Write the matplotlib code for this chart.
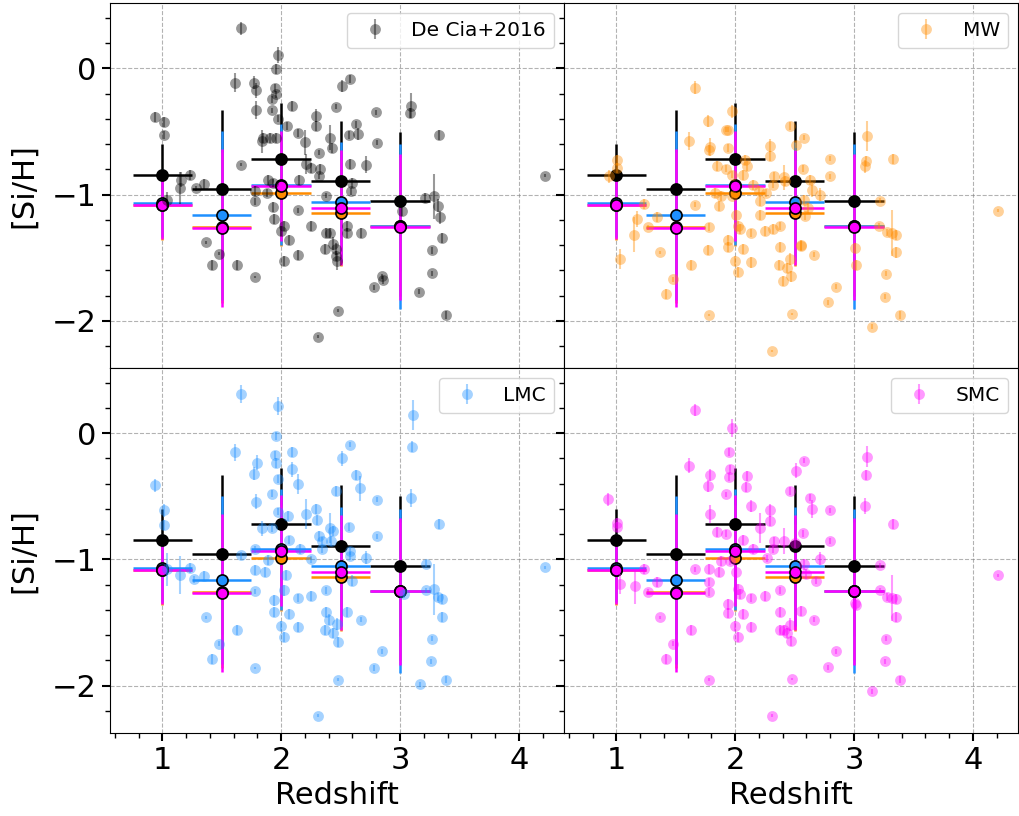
import matplotlib
matplotlib.use('Agg')
import matplotlib.pyplot as plt
from matplotlib.ticker import AutoMinorLocator, MultipleLocator

# --- individual absorbers, one set of lists per dust model ---
decia_z = [1.66, 1.97, 1.96, 1.61, 1.77, 1.79, 1.95, 1.96, 1.92, 2.51, 2.58, 2.09, 1.79, 1.92, 1.97,
           2.46, 2.29, 2.29, 2.05, 2.14, 2.20, 1.85, 1.91, 1.96, 1.84, 2.41, 2.57, 2.65, 2.63, 2.80,
           2.81, 3.09, 3.08, 3.33, 0.94, 1.01, 1.01, 2.32, 2.43, 2.21, 2.25, 2.33, 2.58, 2.71, 2.32,
           1.66, 1.23, 1.16, 1.15, 1.35, 1.28, 1.89, 2.15, 1.78, 1.78, 1.88, 1.93, 2.60, 2.59, 2.38,
           1.04, 3.21, 3.29, 3.32, 3.02, 3.34, 3.35, 3.27, 3.27, 3.16, 3.39, 2.85, 2.86, 2.78, 1.93,
           1.94, 2.14, 2.02, 2.00, 2.07, 2.25, 2.38, 2.41, 2.55, 2.55, 2.67, 2.37, 2.44, 2.46, 2.46,
           2.47, 1.37, 1.48, 1.42, 1.63, 1.78, 2.02, 2.14, 2.48, 2.31, 4.22]
decia_y = [0.317, 0.106, -0.008, -0.114, -0.114, -0.172, -0.153, -0.206, -0.246, -0.140, -0.082,
           -0.299, -0.331, -0.331, -0.397, -0.304, -0.373, -0.458, -0.458, -0.511, -0.585, -0.550,
           -0.550, -0.550, -0.577, -0.550, -0.529, -0.519, -0.444, -0.347, -0.590, -0.294, -0.352,
           -0.524, -0.384, -0.426, -0.529, -0.669, -0.630, -0.757, -0.788, -0.794, -0.754, -0.762,
           -0.854, -0.762, -0.841, -0.881, -0.947, -0.913, -0.950, -0.881, -0.881, -0.974, -1.053,
           -0.987, -0.907, -0.907, -0.974, -1.008, -1.040, -1.026, -1.013, -1.087, -1.132, -1.180,
           -1.344, -1.442, -1.622, -1.770, -1.952, -1.648, -1.675, -1.733, -1.098, -1.193, -1.124,
           -1.246, -1.291, -1.357, -1.246, -1.304, -1.304, -1.246, -1.304, -1.304, -1.431, -1.389,
           -1.431, -1.489, -1.529, -1.378, -1.468, -1.556, -1.556, -1.653, -1.524, -1.481, -1.918,
           -2.124, -0.849]
decia_err = [0.05, 0.06, 0.04, 0.075, 0.05, 0.06, 0.03, 0.03, 0.03, 0.05, 0.03, 0.04, 0.07, 0.02, 0.03,
             0.02, 0.05, 0.04, 0.03, 0.03, 0.10, 0.04, 0.04, 0.04, 0.09, 0.10, 0.03, 0.05, 0.03, 0.02,
             0.02, 0.10, 0.04, 0.04, 0.04, 0.04, 0.03, 0.02, 0.04, 0.08, 0.04, 0.04, 0.04, 0.07, 0.02,
             0.01, 0.04, 0.06, 0.13, 0.04, 0.02, 0.04, 0.04, 0.04, 0.03, 0.03, 0.03, 0.04, 0.03, 0.02,
             0.06, 0.04, 0.18, 0.05, 0.04, 0.05, 0.04, 0.03, 0.02, 0.02, 0.03, 0.02, 0.03, 0.02, 0.04,
             0.04, 0.02, 0.04, 0.04, 0.04, 0.04, 0.04, 0.04, 0.04, 0.04, 0.04, 0.04, 0.05, 0.05, 0.04,
             0.07, 0.01, 0.01, 0.04, 0.04, 0.01, 0.04, 0.04, 0.01, 0.01, 0.01]

mw_z = [1.66, 1.97, 1.77, 1.92, 1.94, 2.46, 2.58, 1.61, 1.79, 1.78, 1.94, 2.29, 2.29, 2.51, 2.80,
        2.80, 3.11, 3.10, 3.09, 3.33, 1.01, 1.01, 0.94, 1.85, 1.92, 1.97, 2.07, 2.08, 2.10, 2.57,
        2.33, 2.41, 2.32, 2.42, 2.63, 2.65, 2.71, 1.83, 1.88, 1.97, 2.15, 2.20, 2.21, 2.26, 1.86,
        1.66, 1.23, 1.17, 1.15, 1.03, 1.34, 1.27, 1.78, 2.01, 2.02, 2.04, 2.13, 2.21, 2.25, 2.32,
        2.38, 2.58, 2.61, 2.59, 3.22, 3.21, 3.28, 3.32, 3.35, 3.35, 3.01, 3.02, 3.27, 3.26, 3.39,
        3.15, 2.85, 2.78, 2.48, 2.66, 2.55, 2.55, 2.38, 2.37, 2.46, 2.44, 2.47, 2.40, 1.94, 1.94,
        2.07, 2.00, 2.13, 2.02, 1.77, 1.37, 1.63, 1.48, 1.42, 1.78, 2.31, 4.21]
mw_y = [-0.153, -0.339, -0.418, -0.484, -0.484, -0.458, -0.550, -0.577, -0.624, -0.643, -0.630,
        -0.611, -0.696, -0.603, -0.717, -0.854, -0.537, -0.735, -0.775, -0.717, -0.728, -0.788,
        -0.854, -0.775, -0.794, -0.841, -0.841, -0.722, -0.775, -0.794, -0.854, -0.862, -0.921,
        -0.894, -0.881, -0.960, -1.000, -0.987, -1.013, -1.008, -0.921, -0.974, -1.053, -0.987,
        -1.093, -1.079, -1.071, -1.193, -1.317, -1.511, -1.180, -1.257, -1.257, -1.159, -1.246,
        -1.272, -1.304, -1.164, -1.291, -1.272, -1.246, -1.040, -1.106, -1.172, -1.048, -1.246,
        -1.299, -1.304, -1.317, -1.458, -1.423, -1.556, -1.627, -1.807, -1.952, -2.045, -1.728,
        -1.854, -1.947, -1.476, -1.410, -1.397, -1.418, -1.556, -1.511, -1.582, -1.648, -1.683,
        -1.357, -1.418, -1.431, -1.524, -1.537, -1.616, -1.437, -1.458, -1.556, -1.669, -1.788,
        -1.952, -2.238, -1.127]
mw_err = [0.05, 0.05, 0.05, 0.02, 0.02, 0.03, 0.02, 0.07, 0.07, 0.04, 0.03, 0.05, 0.04, 0.03, 0.02,
          0.02, 0.12, 0.04, 0.05, 0.04, 0.04, 0.04, 0.05, 0.04, 0.03, 0.03, 0.04, 0.04, 0.04, 0.03,
          0.03, 0.10, 0.03, 0.04, 0.04, 0.06, 0.05, 0.04, 0.04, 0.03, 0.04, 0.04, 0.04, 0.03, 0.04,
          0.02, 0.04, 0.06, 0.14, 0.08, 0.04, 0.02, 0.03, 0.04, 0.04, 0.04, 0.03, 0.04, 0.04, 0.04,
          0.03, 0.04, 0.04, 0.03, 0.02, 0.02, 0.03, 0.18, 0.04, 0.04, 0.04, 0.04, 0.02, 0.02, 0.03,
          0.02, 0.02, 0.02, 0.01, 0.02, 0.04, 0.04, 0.04, 0.04, 0.05, 0.04, 0.04, 0.04, 0.04, 0.04,
          0.04, 0.04, 0.04, 0.04, 0.04, 0.01, 0.04, 0.02, 0.04, 0.01, 0.01, 0.01]

lmc_z = [1.66, 1.97, 3.11, 1.96, 3.10, 2.58, 1.61, 1.95, 2.09, 1.80, 1.96, 2.51, 1.77, 2.09, 1.97,
         2.14, 2.63, 2.66, 0.94, 1.92, 1.79, 2.46, 2.81, 3.09, 1.01, 1.01, 1.97, 2.06, 2.21, 2.29,
         2.30, 1.84, 1.92, 2.41, 2.44, 2.57, 3.33, 2.81, 2.07, 2.32, 2.34, 2.34, 2.42, 2.58, 2.58,
         2.71, 1.78, 1.89, 2.16, 2.25, 1.66, 1.04, 1.15, 1.23, 1.27, 1.35, 1.78, 1.86, 2.04, 1.78,
         2.02, 1.94, 2.14, 2.25, 2.38, 2.60, 1.94, 2.07, 2.00, 2.14, 2.02, 2.38, 2.40, 2.47, 2.37,
         2.44, 2.48, 2.55, 2.67, 3.22, 3.22, 3.29, 3.32, 3.35, 3.35, 3.03, 3.27, 3.26, 3.17, 3.39,
         2.85, 2.78, 2.48, 2.31, 1.37, 1.63, 1.48, 1.42, 1.78, 4.22]
lmc_y = [0.310, 0.217, 0.146, -0.021, -0.106, -0.093, -0.153, -0.172, -0.146, -0.233, -0.233,
         -0.198, -0.320, -0.286, -0.365, -0.405, -0.331, -0.437, -0.413, -0.479, -0.542, -0.458,
         -0.529, -0.511, -0.611, -0.728, -0.622, -0.656, -0.643, -0.598, -0.690, -0.754, -0.754,
         -0.749, -0.775, -0.743, -0.717, -0.815, -0.847, -0.815, -0.854, -0.921, -0.854, -0.934,
         -0.974, -0.987, -0.921, -1.008, -0.921, -1.000, -0.968, -1.079, -1.124, -1.066, -1.159,
         -1.132, -1.087, -1.098, -1.124, -1.251, -1.246, -1.325, -1.304, -1.291, -1.246, -1.167,
         -1.418, -1.431, -1.524, -1.537, -1.616, -1.418, -1.476, -1.511, -1.556, -1.582, -1.653,
         -1.418, -1.476, -1.034, -1.246, -1.238, -1.299, -1.312, -1.458, -1.272, -1.627, -1.807,
         -1.987, -1.952, -1.728, -1.860, -1.952, -2.238, -1.458, -1.556, -1.669, -1.788, -1.860,
         -1.063]
lmc_err = [0.07, 0.07, 0.12, 0.03, 0.04, 0.02, 0.07, 0.03, 0.04, 0.06, 0.04, 0.06, 0.05, 0.06, 0.03,
           0.08, 0.04, 0.10, 0.05, 0.03, 0.06, 0.04, 0.02, 0.07, 0.05, 0.04, 0.03, 0.04, 0.12, 0.04,
           0.04, 0.06, 0.03, 0.12, 0.04, 0.03, 0.04, 0.02, 0.03, 0.04, 0.03, 0.03, 0.04, 0.03, 0.03,
           0.05, 0.03, 0.04, 0.04, 0.03, 0.03, 0.13, 0.15, 0.04, 0.03, 0.04, 0.04, 0.04, 0.04, 0.02,
           0.04, 0.04, 0.03, 0.04, 0.03, 0.04, 0.04, 0.04, 0.04, 0.04, 0.04, 0.04, 0.04, 0.05, 0.04,
           0.04, 0.04, 0.04, 0.02, 0.03, 0.02, 0.20, 0.03, 0.04, 0.04, 0.03, 0.02, 0.02, 0.02, 0.03,
           0.02, 0.02, 0.01, 0.01, 0.01, 0.04, 0.02, 0.04, 0.01, 0.01]

smc_z = [1.66, 1.97, 1.95, 3.11, 2.58, 1.61, 1.96, 1.79, 1.95, 2.10, 2.51, 3.10, 1.77, 2.09, 1.92,
         2.46, 2.63, 0.93, 2.13, 2.29, 2.65, 2.80, 3.09, 1.79, 1.01, 1.01, 2.29, 3.33, 1.85, 1.92,
         2.21, 2.57, 2.07, 2.33, 2.41, 2.50, 2.80, 2.32, 2.15, 1.88, 1.96, 2.27, 2.71, 1.66, 1.78,
         1.86, 1.23, 1.34, 1.03, 1.16, 1.27, 1.78, 1.78, 2.01, 2.02, 2.04, 2.13, 2.25, 2.38, 2.58,
         2.60, 2.68, 3.22, 3.22, 3.28, 3.32, 3.35, 3.35, 3.01, 3.02, 3.27, 3.26, 3.39, 3.15, 2.85,
         2.78, 2.48, 2.66, 2.55, 2.38, 2.38, 2.41, 2.46, 2.44, 2.47, 1.94, 1.94, 2.07, 2.00, 2.13,
         2.02, 1.37, 1.63, 1.48, 1.42, 1.78, 2.31, 4.21]
smc_y = [0.183, 0.040, -0.148, -0.185, -0.220, -0.259, -0.286, -0.331, -0.347, -0.339, -0.299,
         -0.333, -0.418, -0.426, -0.484, -0.458, -0.511, -0.524, -0.577, -0.611, -0.603, -0.611,
         -0.577, -0.638, -0.709, -0.743, -0.696, -0.717, -0.780, -0.796, -0.749, -0.794, -0.847,
         -0.854, -0.854, -0.868, -0.854, -0.921, -0.921, -1.013, -1.013, -0.992, -0.995, -1.079,
         -1.074, -1.098, -1.074, -1.180, -1.193, -1.212, -1.257, -1.257, -1.177, -1.098, -1.238,
         -1.272, -1.304, -1.291, -1.246, -1.040, -1.119, -1.167, -1.048, -1.246, -1.299, -1.304,
         -1.317, -1.458, -1.344, -1.362, -1.627, -1.807, -1.952, -2.045, -1.728, -1.854, -1.947,
         -1.476, -1.410, -1.418, -1.556, -1.556, -1.516, -1.582, -1.648, -1.357, -1.423, -1.431,
         -1.524, -1.537, -1.616, -1.458, -1.556, -1.669, -1.788, -1.952, -2.238, -1.127]
smc_err = [0.05, 0.07, 0.03, 0.08, 0.02, 0.06, 0.03, 0.05, 0.03, 0.04, 0.06, 0.04, 0.05, 0.04, 0.02,
           0.03, 0.03, 0.05, 0.05, 0.05, 0.07, 0.02, 0.06, 0.07, 0.04, 0.04, 0.04, 0.04, 0.04, 0.03,
           0.12, 0.03, 0.04, 0.03, 0.10, 0.04, 0.02, 0.03, 0.04, 0.04, 0.03, 0.03, 0.05, 0.02, 0.04,
           0.04, 0.04, 0.04, 0.08, 0.14, 0.02, 0.03, 0.03, 0.04, 0.04, 0.04, 0.03, 0.04, 0.03, 0.04,
           0.04, 0.03, 0.02, 0.02, 0.03, 0.18, 0.04, 0.04, 0.04, 0.04, 0.02, 0.02, 0.03, 0.02, 0.02,
           0.02, 0.01, 0.02, 0.04, 0.04, 0.04, 0.04, 0.05, 0.04, 0.04, 0.04, 0.04, 0.04, 0.04, 0.04,
           0.04, 0.01, 0.04, 0.02, 0.04, 0.01, 0.01, 0.01]

# --- binned means (same in every panel) ---
bin_z = [1.0, 1.5, 2.0, 2.5, 3.0]
bin_halfwidth = [0.25, 0.25, 0.25, 0.25, 0.25]
decia_mean = [-0.844, -0.958, -0.717, -0.892, -1.053]
decia_std = [0.246, 0.630, 0.445, 0.479, 0.553]
mw_mean = [-1.080, -1.260, -0.987, -1.143, -1.250]
mw_std = [0.280, 0.600, 0.420, 0.420, 0.550]
lmc_mean = [-1.066, -1.164, -0.920, -1.056, -1.250]
lmc_std = [0.270, 0.667, 0.480, 0.471, 0.652]
smc_mean = [-1.082, -1.264, -0.931, -1.103, -1.254]
smc_std = [0.270, 0.626, 0.439, 0.455, 0.580]

panels = [(decia_z, decia_y, decia_err, 'k', 'De Cia+2016'),
          (mw_z, mw_y, mw_err, 'darkorange', 'MW'),
          (lmc_z, lmc_y, lmc_err, 'dodgerblue', 'LMC'),
          (smc_z, smc_y, smc_err, 'magenta', 'SMC')]
bins = [(decia_mean, decia_std, 'k'),
        (mw_mean, mw_std, 'darkorange'),
        (lmc_mean, lmc_std, 'dodgerblue'),
        (smc_mean, smc_std, 'magenta')]

fig, axes = plt.subplots(2, 2, figsize=(10.19, 8.16), dpi=100, sharex=True, sharey=True)
fig.subplots_adjust(left=0.108, right=0.999, top=0.996, bottom=0.102, wspace=0, hspace=0)

for ax, (z, y, e, c, lab) in zip(axes.flat, panels):
    ax.set_axisbelow(True)
    for m, s, bc in bins:
        ax.errorbar(bin_z, m, xerr=bin_halfwidth, yerr=s, fmt='none', ecolor=bc,
                    elinewidth=1.8, zorder=2)
    for m, s, bc in bins:
        ax.plot(bin_z, m, 'o', color=bc, mec='k', ms=8, mew=1.2, zorder=3)
    ax.errorbar(z, y, yerr=e, fmt='o', color=c, ms=7.8, mew=0, alpha=0.4, label=lab, zorder=4)
    ax.legend(loc='upper right', fontsize=14.5)
    ax.grid(ls='--', color='gray', alpha=0.6, lw=0.8)
    ax.xaxis.set_major_locator(MultipleLocator(1))
    ax.yaxis.set_major_locator(MultipleLocator(1))
    ax.xaxis.set_minor_locator(AutoMinorLocator(5))
    ax.yaxis.set_minor_locator(AutoMinorLocator(5))
    ax.tick_params(which='major', length=6, width=1.5, labelsize=22)
    ax.tick_params(which='minor', length=3.5, width=1)

for ax in axes[0]:
    ax.tick_params(axis='x', which='both', bottom=False)

axes[0, 0].set_xlim(0.56, 4.38)
axes[0, 0].set_ylim(-2.373, 0.516)

for ax in axes[:, 0]:
    ax.set_ylabel('[Si/H]', fontsize=22, labelpad=10)
for ax in axes[1]:
    ax.set_xlabel('Redshift', fontsize=22)

fig.savefig('out.png', dpi=100)
